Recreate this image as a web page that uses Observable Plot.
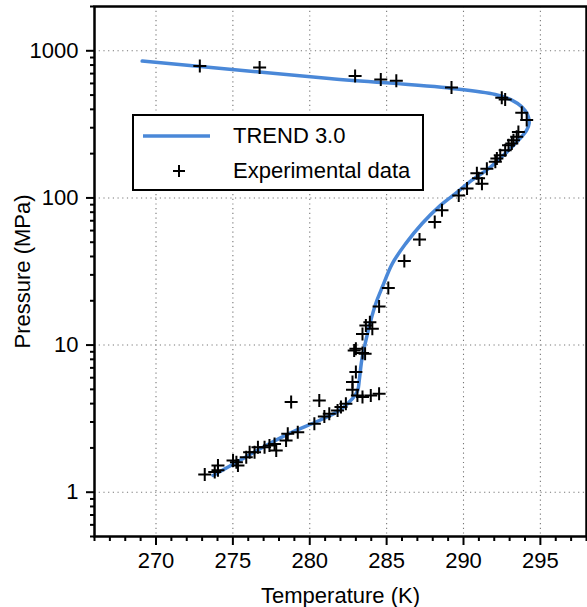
<!DOCTYPE html>
<html>
<head>
<meta charset="utf-8">
<script src="https://cdn.jsdelivr.net/npm/d3@7"></script>
<script src="https://cdn.jsdelivr.net/npm/@observablehq/plot@0.6"></script>
<style>
  body { margin: 0; background: #fff; }
  #wrap { position: relative; width: 587px; height: 607px; font-family: "Liberation Sans", Arial, sans-serif; }
  #legend { position: absolute; left: 132px; top: 114px; width: 288px; height: 73px; border: 2.5px solid #000; background: #fff; font-size: 22px; color: #000; }
  #legend .row { position: absolute; left: 0; display: flex; align-items: center; height: 30px; }
  #legend .txt { position: absolute; left: 99px; white-space: nowrap; }
</style>
</head>
<body>
<div id="wrap"></div>
<script>
// TREND 3.0 curve (Temperature K, Pressure MPa)
const trendT = [269.1, 281.27, 289.26, 292.07, 293.14, 293.79, 294.18, 294.27, 294.11, 293.58, 292.71, 291.63, 290.55, 289.47, 288.5, 287.31, 286.24, 285.37, 284.72, 284.29, 283.97, 283.6, 283.38, 283.22, 283.12, 282.78, 281.92, 280.62, 278.68, 276.95, 275.44, 273.71];
const trendP = [851, 649, 555, 505, 462, 416, 365, 321, 289, 247, 200, 158, 132, 107, 89, 67, 48.9, 35.8, 24.8, 19.1, 14.7, 10.2, 7.87, 5.75, 4.92, 4.32, 3.59, 3.07, 2.51, 2.02, 1.64, 1.30];

// Experimental data
const expT = [272.85, 276.74, 282.95, 284.62, 285.63, 289.22, 292.49, 292.71, 293.79, 294.11,
  293.57, 293.46, 293.25, 293.14, 292.93, 292.71, 292.39, 292.17, 292.07, 291.52, 290.87, 290.98, 291.2, 290.23, 289.69,
  288.6, 288.13, 287.14, 286.15, 285.11, 284.51,
  283.91, 283.65, 284.07, 283.43, 283.0, 282.89, 283.43, 283.6, 283.0, 282.78, 282.78, 283.1, 283.43, 283.97, 284.51,
  278.79, 280.62, 282.35, 282.03, 281.81, 281.27, 280.95, 280.3, 279.22, 278.57, 278.46, 277.71, 277.82, 277.38, 277.06, 276.63, 276.41, 276.09, 275.87, 275.23, 275.01, 275.33, 274.03, 274.03, 273.82, 273.17];
const expP = [787, 771, 673, 639, 625, 564, 479, 467, 379, 338,
  281, 260, 247, 234, 228, 211, 195, 185, 176, 158, 147, 136, 125, 116, 104,
  82.5, 68.7, 52.1, 37.3, 24.4, 18.3,
  14.3, 13.6, 12.9, 11.9, 9.45, 9.2, 8.82, 8.74, 6.55, 5.6, 4.97, 4.55, 4.43, 4.55, 4.67,
  4.10, 4.2, 3.99, 3.79, 3.59, 3.41, 3.27, 2.92, 2.56, 2.50, 2.25, 2.13, 1.92, 2.08, 2.02, 2.02, 1.87, 1.87, 1.73, 1.60, 1.64, 1.52, 1.52, 1.41, 1.37, 1.32];

const xMajor = [270, 275, 280, 285, 290, 295];
const yMajor = [1, 10, 100, 1000];
const xDomain = [266, 298];
const yDomain = [0.5, 2000];

const xMinor = d3.range(266, 299).filter(v => !xMajor.includes(v));
const yMinor = [];
[0.1, 1, 10, 100, 1000].forEach(dec => { for (let k = 2; k <= 9; k++) { const v = k * dec; if (v >= yDomain[0] && v <= yDomain[1]) yMinor.push(v); } });

const trend = trendT.map((t, i) => ({T: t, P: trendP[i]}));
const exp = expT.map((t, i) => ({T: t, P: expP[i]}));

const plusSymbol = {
  draw(ctx, size) {
    const r = Math.sqrt(size / Math.PI);
    ctx.moveTo(-r, 0); ctx.lineTo(r, 0);
    ctx.moveTo(0, -r); ctx.lineTo(0, r);
  }
};

const chart = Plot.plot({
  width: 587,
  height: 607,
  marginLeft: 94,
  marginRight: 1,
  marginTop: 6,
  marginBottom: 71,
  style: {fontFamily: "Liberation Sans, Arial, sans-serif", fontSize: "22px", color: "#000", background: "#fff"},
  x: {domain: xDomain},
  y: {type: "log", domain: yDomain},
  marks: [
    Plot.gridX(xMajor, {stroke: "#777", strokeOpacity: 1, strokeWidth: 1.1, strokeDasharray: "1.2,3.5"}),
    Plot.gridY(yMajor, {stroke: "#777", strokeOpacity: 1, strokeWidth: 1.1, strokeDasharray: "1.2,3.5"}),
    Plot.axisX(xMinor, {tickSize: 5, strokeWidth: 2, tickFormat: () => "", label: null}),
    Plot.axisX(xMajor, {tickSize: 9, strokeWidth: 2, tickPadding: 7, fontSize: 22, tickFormat: d => String(d),
      label: "Temperature (K)", labelAnchor: "center", labelArrow: "none", labelOffset: 66}),
    Plot.axisY(yMinor, {tickSize: 4, strokeWidth: 2, tickFormat: () => "", label: null}),
    Plot.axisY(yMajor, {tickSize: 8, strokeWidth: 2, tickPadding: 8, fontSize: 22, tickFormat: d => String(d),
      label: "Pressure (MPa)", labelAnchor: "center", labelArrow: "none", labelOffset: 80}),
    Plot.line(trend, {x: "T", y: "P", stroke: "#4a88d8", strokeWidth: 3.5, curve: "catmull-rom"}),
    Plot.dot(exp, {x: "T", y: "P", symbol: plusSymbol, r: 6.5, stroke: "#000", strokeWidth: 2, fill: "none"}),
    Plot.frame({stroke: "#000", strokeWidth: 2.5})
  ]
});

const wrap = document.getElementById("wrap");
wrap.appendChild(chart);

const legend = document.createElement("div");
legend.id = "legend";
legend.innerHTML = `
  <div class="row" style="top:5px;">
    <svg width="90" height="30" style="position:absolute;left:9px;top:0"><line x1="0" x2="67" y1="15" y2="15" stroke="#4a88d8" stroke-width="3.5"/></svg>
    <span class="txt" style="top:2px">TREND 3.0</span>
  </div>
  <div class="row" style="top:40px;">
    <svg width="90" height="30" style="position:absolute;left:9px;top:0"><path d="M30,15H42M36,9V21" stroke="#000" stroke-width="2" fill="none"/></svg>
    <span class="txt" style="top:2px">Experimental data</span>
  </div>`;
wrap.appendChild(legend);
</script>
</body>
</html>
